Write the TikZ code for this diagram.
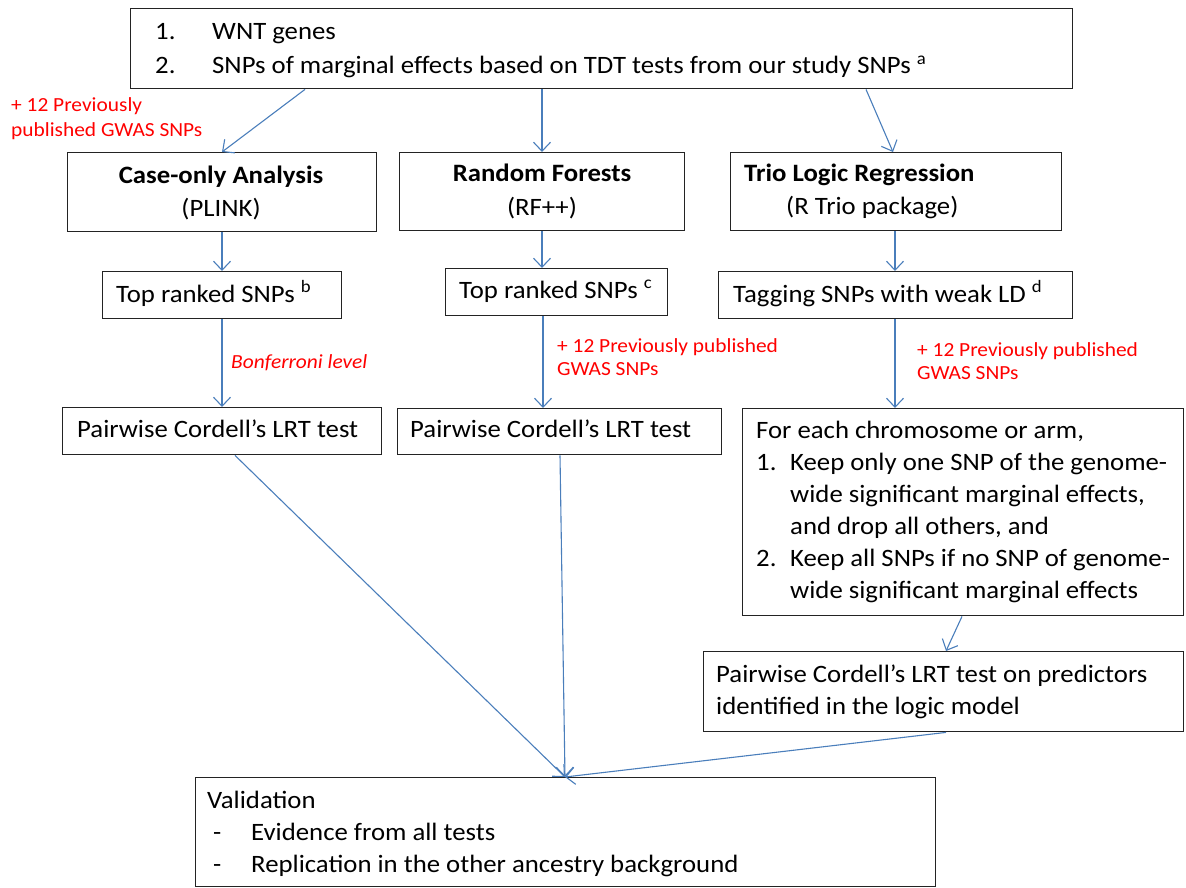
\documentclass[tikz,border=0pt]{standalone}
\usepackage{fontspec}
\setmainfont[FakeStretch=1.07]{Carlito}
\usetikzlibrary{arrows.meta}
\definecolor{arrblue}{RGB}{74,126,187}
\definecolor{boxline}{RGB}{35,35,35}
\definecolor{redtxt}{RGB}{255,0,0}
\newcommand{\bx}[5]{%
  \pgfmathsetmacro{\bw}{#4-#2}\pgfmathsetmacro{\bh}{#5-#3}%
  \node[box, minimum width=\bw pt, minimum height=\bh pt] (#1) at (#2,#3) {};}
\begin{document}
\begin{tikzpicture}[x=1pt,y=-1pt,
  box/.style={draw=boxline, line width=1.4pt, anchor=north west, inner sep=0pt, fill=none},
  txt/.style={anchor=base west, inner sep=0pt, font=\fontsize{25}{31}\selectfont},
  btxt/.style={anchor=base, inner sep=0pt, font=\fontsize{25}{31}\selectfont\bfseries},
  ctxt/.style={anchor=base, inner sep=0pt, font=\fontsize{25}{31}\selectfont},
  rtxt/.style={anchor=base west, inner sep=0pt, text=redtxt, font=\fontsize{20}{24}\selectfont},
  arr/.style={draw=arrblue, line width=1.1pt, -{Straight Barb[length=9pt,width=17pt,line width=1.1pt]}}]
\useasboundingbox (0,0) rectangle (1186,888);
% boxes
\bx{top}{130}{8}{1072}{88}
\bx{case}{67}{152}{376}{231}
\bx{rf}{399}{152}{684}{230}
\bx{trio}{730}{152}{1061}{230}
\bx{topa}{102}{271}{341}{318}
\bx{topb}{445}{268}{667}{315}
\bx{tag}{718}{271}{1072}{318}
\bx{pwa}{62}{407}{381}{454}
\bx{pwb}{397}{408}{721}{454}
\bx{foreach}{742}{408}{1183}{615}
\bx{pwp}{703}{651}{1183}{731}
\bx{val}{195}{777}{935}{886}
% texts
\node[txt] (t1n) at (155,40) {1.};
\node[txt] (t1) at (212,40) {WNT genes};
\node[txt] (t2n) at (155,74) {2.};
\node[txt] (t2) at (212,74) {SNPs of marginal effects based on TDT tests from our study SNPs \textsuperscript{a}};
\node[rtxt] (r1) at (11,112) {+ 12 Previously};
\node[rtxt] (r2) at (11,137) {published GWAS SNPs};
\node[btxt] (c1) at (221,183) {Case-only Analysis};
\node[ctxt] (c2) at (221,216) {(PLINK)};
\node[btxt] (f1) at (542,182) {Random Forests};
\node[ctxt] (f2) at (542,215) {(RF++)};
\node[txt,font=\fontsize{25}{31}\selectfont\bfseries] (g1) at (744,182) {Trio Logic Regression};
\node[txt] (g2) at (786,214) {(R Trio package)};
\node[txt] (ta) at (116,302) {Top ranked SNPs \textsuperscript{b}};
\node[txt] (tb) at (459,298) {Top ranked SNPs \textsuperscript{c}};
\node[txt] (tc) at (733,302) {Tagging SNPs with weak LD \textsuperscript{d}};
\node[rtxt,font=\fontsize{20}{24}\selectfont\itshape] (bon) at (231,368) {Bonferroni level};
\node[rtxt] (r3) at (557,352) {+ 12 Previously published};
\node[rtxt] (r4) at (557,375) {GWAS SNPs};
\node[rtxt] (r5) at (917,356) {+ 12 Previously published};
\node[rtxt] (r6) at (917,379) {GWAS SNPs};
\node[txt] (pa) at (77,437) {Pairwise Cordell’s LRT test};
\node[txt] (pb) at (410,437) {Pairwise Cordell’s LRT test};
\node[txt] (e0) at (756,438) {For each chromosome or arm,};
\node[txt] (e1n) at (756,470) {1.};
\node[txt] (e1) at (790,470) {Keep only one SNP of the genome-};
\node[txt] (e2) at (790,502) {wide significant marginal effects,};
\node[txt] (e3) at (790,534) {and drop all others, and};
\node[txt] (e4n) at (756,566) {2.};
\node[txt] (e4) at (790,566) {Keep all SNPs if no SNP of genome-};
\node[txt] (e5) at (790,598) {wide significant marginal effects};
\node[txt] (q1) at (716,682) {Pairwise Cordell’s LRT test on predictors};
\node[txt] (q2) at (716,714) {identified in the logic model};
\node[txt] (v0) at (207,808) {Validation};
\node[txt] (v1n) at (213,840) {-};
\node[txt] (v1) at (251,840) {Evidence from all tests};
\node[txt] (v2n) at (213,872) {-};
\node[txt] (v2) at (251,872) {Replication in the other ancestry background};
% connectors
\draw[arr] ([xshift=175pt]top.south west) -- ([xshift=155pt]case.north west);
\draw[arr] ([xshift=412pt]top.south west) -- ([xshift=143pt]rf.north west);
\draw[arr] ([xshift=736pt]top.south west) -- ([xshift=163pt]trio.north west);
\draw[arr] ([xshift=155pt]case.south west) -- ([xshift=120pt]topa.north west);
\draw[arr] ([xshift=143pt]rf.south west) -- ([xshift=97pt]topb.north west);
\draw[arr] ([xshift=165pt]trio.south west) -- ([xshift=177pt]tag.north west);
\draw[arr] ([xshift=120pt]topa.south west) -- ([xshift=160pt]pwa.north west);
\draw[arr] ([xshift=98pt]topb.south west) -- ([xshift=146pt]pwb.north west);
\draw[arr] ([xshift=177pt]tag.south west) -- ([xshift=153pt]foreach.north west);
\draw[arr] ([xshift=220pt]foreach.south west) -- ([xshift=243pt]pwp.north west);
\draw[arr] ([xshift=173pt]pwa.south west) -- ([xshift=370pt]val.north west);
\draw[arr] ([xshift=163pt]pwb.south west) -- ([xshift=370pt]val.north west);
\draw[arr] ([xshift=243pt]pwp.south west) -- ([xshift=370pt]val.north west);
\end{tikzpicture}
\end{document}
